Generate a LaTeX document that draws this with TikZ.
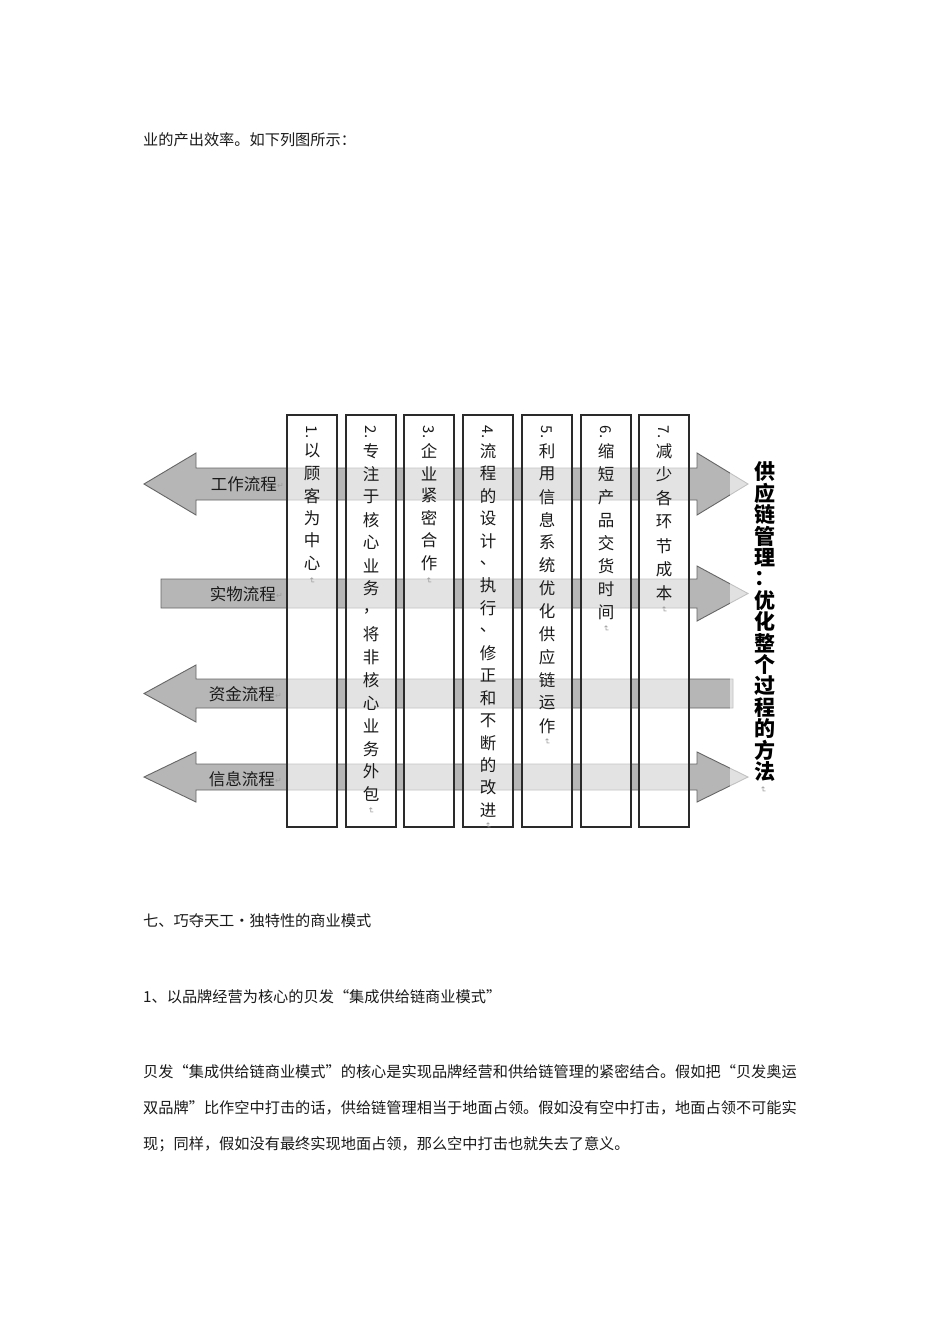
\documentclass[tikz,border=0pt]{standalone}
\usepackage{fontspec}
\setmainfont{Noto Sans CJK SC}
\newfontfamily\dv{DejaVu Sans}
\definecolor{arrowgray}{HTML}{B6B6B6}
\definecolor{arrowline}{HTML}{666666}
\definecolor{colline}{HTML}{2A2A2A}
\definecolor{markgray}{HTML}{9A9A9A}
\definecolor{txt}{HTML}{1A1A1A}
\newcommand\vcol[7]{%
  \node[vnum] (#1n) at (#2,432) {#3.};
  \foreach \ch [count=\i from 0] in {#5} {
    \node[vchar] (#1c\i) at (#2,{451+#4*\i}) {\ch};
  }
  \node[vmark] (#1m) at (#2,#6) {↵};
}
\begin{document}
\begin{tikzpicture}[x=1pt,y=-1pt,
  arrowshape/.style={fill=arrowgray,draw=arrowline,line width=0.9pt,line join=miter},
  colbox/.style={fill=white,fill opacity=0.62,draw=colline,draw opacity=1,line width=1.1pt},
  overlay box/.style={fill=white,fill opacity=0.6,draw=none},
  vchar/.style={font=\fontsize{16.5}{16.5}\selectfont,inner sep=0pt,text=txt},
  vnum/.style={font=\fontsize{15}{15}\selectfont,inner sep=0pt,rotate=-90,text=txt},
  vmark/.style={font=\dv\fontsize{8}{8}\selectfont,inner sep=0pt,rotate=-90,text=markgray},
  flowlabel/.style={font=\fontsize{16.5}{16.5}\selectfont,inner sep=0pt,anchor=east,text=txt},
  hmark/.style={font=\dv\fontsize{8}{8}\selectfont,inner sep=0pt,anchor=west,text=markgray},
  title/.style={font=\fontsize{21}{21}\selectfont\bfseries,inner sep=0pt,text=black},
  para/.style={font=\fontsize{15.2}{15.2}\selectfont,inner sep=0pt,anchor=west,text=txt}]
\fill[white] (0,0) rectangle (950,1344);
\useasboundingbox (0,0) rectangle (950,1344);

% body text
\node[para] (t0) at (143,140) {业的产出效率。如下列图所示：};
\node[para] (t1) at (143,921) {七、巧夺天工•独特性的商业模式};
\node[para] (t2) at (143,997) {1、以品牌经营为核心的贝发“集成供给链商业模式”};
\node[para] (t3) at (143,1072) {贝发“集成供给链商业模式”的核心是实现品牌经营和供给链管理的紧密结合。假如把“贝发奥运};
\node[para] (t4) at (143,1108) {双品牌”比作空中打击的话，供给链管理相当于地面占领。假如没有空中打击，地面占领不可能实};
\node[para] (t5) at (143,1144) {现；同样，假如没有最终实现地面占领，那么空中打击也就失去了意义。};

% flow arrows
\draw[arrowshape] (144,484) -- (196,453) -- (196,468) -- (697,468) -- (697,453) -- (748,484)
  -- (697,515) -- (697,500) -- (196,500) -- (196,515) -- cycle;
\draw[arrowshape] (161,579) -- (697,579) -- (697,566) -- (748,593.5) -- (697,621) -- (697,608)
  -- (161,608) -- cycle;
\draw[arrowshape] (144,693.5) -- (196,665) -- (196,679) -- (733,679) -- (733,708) -- (196,708)
  -- (196,722) -- cycle;
\draw[arrowshape] (144,777) -- (196,752) -- (196,764) -- (697,764) -- (697,752) -- (748,777)
  -- (697,802) -- (697,790) -- (196,790) -- (196,802) -- cycle;

\node[flowlabel] (l1) at (277,484) {工作流程};
\node[hmark] (l1m) at (277,486) {↵};
\node[flowlabel] (l2) at (276,594) {实物流程};
\node[hmark] (l2m) at (276,596) {↵};
\node[flowlabel] (l3) at (275,694) {资金流程};
\node[hmark] (l3m) at (275,696) {↵};
\node[flowlabel] (l4) at (275,779) {信息流程};
\node[hmark] (l4m) at (275,781) {↵};

% columns
\foreach \x [count=\k] in {287,346,404,463,522,581,639} {
  \draw[colbox] (\x,415) rectangle ++(50,412);
}

% overlay near title
\fill[overlay box] (730,440) rectangle (805,805);

% column texts
\vcol{a}{312}{1}{22.4}{以,顾,客,为,中,心}{581}{}
\vcol{b}{371}{2}{22.9}{专,注,于,核,心,业,务,，,将,非,核,心,业,务,外,包}{811}{}
\vcol{c}{429}{3}{22.4}{企,业,紧,密,合,作}{581}{}
\vcol{d}{488}{4}{22.45}{流,程,的,设,计,、,执,行,、,修,正,和,不,断,的,改,进}{826}{}
\vcol{e}{547}{5}{22.9}{利,用,信,息,系,统,优,化,供,应,链,运,作}{742}{}
\vcol{f}{606}{6}{23.1}{缩,短,产,品,交,货,时,间}{629}{}
\vcol{g}{664}{7}{23.7}{减,少,各,环,节,成,本}{610}{}

% title
\foreach \ch [count=\i from 0] in {供,应,链,管,理,：,优,化,整,个,过,程,的,方,法} {
  \node[title] (h\i) at (765,{472+21.4*\i}) {\ch};
}
\node[vmark] (hm) at (763,790) {↵};
\end{tikzpicture}
\end{document}
